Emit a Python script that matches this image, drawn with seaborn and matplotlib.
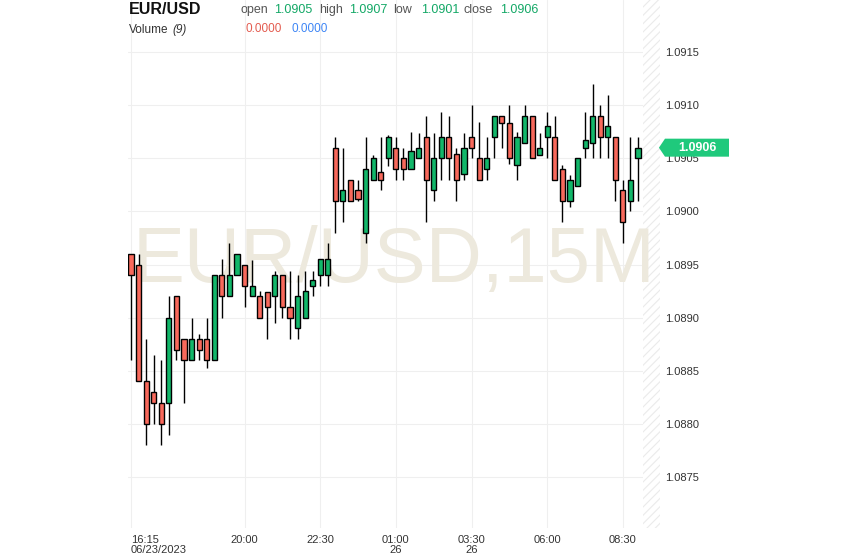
import matplotlib
matplotlib.use("Agg")
import matplotlib.pyplot as plt
import matplotlib.transforms as mtransforms
from matplotlib.patches import Polygon
import numpy as np
import pandas as pd
import seaborn as sns

# 15 minute candles, EUR/USD, 06/23/2023 16:15 -> 26 09:00
opens = [1.0896, 1.0895, 1.0884, 1.0883, 1.0882, 1.0882, 1.0892, 1.0888, 1.0886, 1.0888,
         1.0888, 1.0886, 1.0894, 1.0892, 1.0894, 1.0895, 1.0892, 1.0892, 1.08924, 1.0892,
         1.0894, 1.0891, 1.0889, 1.0890, 1.0893, 1.0894, 1.0894, 1.0906, 1.0901, 1.0903,
         1.0902, 1.0898, 1.0903, 1.09037, 1.0905, 1.0906, 1.0905, 1.0904, 1.0905, 1.0907,
         1.0902, 1.0905, 1.0907, 1.09054, 1.09035, 1.0907, 1.0905, 1.0904, 1.0907, 1.0909,
         1.09083, 1.09044, 1.09064, 1.0909, 1.09053, 1.0907, 1.0907, 1.0904, 1.0901, 1.09024,
         1.0906, 1.09064, 1.0909, 1.0907, 1.0907, 1.0902, 1.0901, 1.0905]
highs = [1.0896, 1.0896, 1.0888, 1.08865, 1.0886, 1.0892, 1.0892, 1.0888, 1.0890, 1.08885,
         1.0890, 1.0894, 1.08955, 1.0897, 1.0896, 1.0895, 1.08954, 1.08925, 1.08924, 1.08944,
         1.0894, 1.08944, 1.0894, 1.08944, 1.08944, 1.08955, 1.0897, 1.0907, 1.0906, 1.0903,
         1.0903, 1.0907, 1.09053, 1.0907, 1.09072, 1.0907, 1.0906, 1.09075, 1.09074, 1.0909,
         1.09074, 1.09094, 1.0909, 1.0906, 1.09074, 1.0910, 1.09084, 1.0907, 1.0909, 1.0909,
         1.0910, 1.09075, 1.0910, 1.0909, 1.09074, 1.09094, 1.0909, 1.09044, 1.09034, 1.0905,
         1.09094, 1.0912, 1.0910, 1.0911, 1.0907, 1.0903, 1.0907, 1.0907]
lows = [1.0886, 1.0884, 1.0878, 1.0880, 1.0878, 1.0879, 1.0886, 1.0882, 1.0886, 1.0886,
        1.08853, 1.0886, 1.0890, 1.0892, 1.0894, 1.0891, 1.0892, 1.0890, 1.0888, 1.08895,
        1.0890, 1.0888, 1.0888, 1.0890, 1.0892, 1.0893, 1.0893, 1.0898, 1.0899, 1.0901,
        1.0901, 1.0897, 1.0903, 1.0902, 1.09043, 1.0903, 1.0903, 1.0904, 1.0905, 1.0899,
        1.0901, 1.0903, 1.0903, 1.0901, 1.0903, 1.0905, 1.0903, 1.0903, 1.0905, 1.0906,
        1.09045, 1.0903, 1.09064, 1.0905, 1.09053, 1.0905, 1.0903, 1.0899, 1.09004, 1.09024,
        1.0905, 1.0905, 1.0905, 1.0905, 1.0901, 1.0897, 1.0900, 1.0901]
closes = [1.0894, 1.0884, 1.0880, 1.0882, 1.0880, 1.0890, 1.0887, 1.0886, 1.0888, 1.0887,
          1.0886, 1.0894, 1.0892, 1.0894, 1.0896, 1.0893, 1.0893, 1.0890, 1.0891, 1.0894,
          1.0891, 1.0890, 1.0892, 1.08925, 1.08935, 1.08955, 1.08955, 1.0901, 1.0902, 1.0901,
          1.09012, 1.0904, 1.0905, 1.0903, 1.0907, 1.0904, 1.0904, 1.09057, 1.0906, 1.0903,
          1.0905, 1.0907, 1.0905, 1.0903, 1.0906, 1.0906, 1.0903, 1.0905, 1.0909, 1.09083,
          1.0905, 1.0907, 1.0909, 1.0905, 1.0906, 1.0908, 1.0903, 1.0901, 1.0903, 1.0905,
          1.09067, 1.0909, 1.0907, 1.0908, 1.0903, 1.0899, 1.0903, 1.0906]

tick_pos = [0, 15, 25, 35, 45, 55, 65]
tick_labels = ["16:15\n06/23/2023", "20:00", "22:30", "01:00\n26", "03:30\n26", "06:00", "08:30"]
price_ticks = [1.0875, 1.0880, 1.0885, 1.0890, 1.0895, 1.0900, 1.0905, 1.0910, 1.0915]

UP = "#12b76a"
DOWN = "#f8695c"

df = pd.DataFrame({"open": opens, "high": highs, "low": lows, "close": closes})
df["idx"] = np.arange(len(df))
df["up"] = df["close"] >= df["open"]
df["bottom"] = df[["open", "close"]].min(axis=1)
df["height"] = (df["close"] - df["open"]).abs().clip(lower=0.000012)

sns.set_style("white")
plt.rcParams["font.family"] = ["Liberation Sans", "DejaVu Sans"]
plt.rcParams["hatch.linewidth"] = 0.8

W, H = 843, 558
fig = plt.figure(figsize=(W / 100, H / 100), dpi=100)
ax = fig.add_axes([128 / W, 30 / H, 532 / W, 528 / H])

ax.set_xlim(-0.4, 69.9)
ax.set_ylim(1.08702, 1.09199)

# hatched area right of last candle
ax.axvspan(67.6, 69.9, facecolor="white", edgecolor="#ebebeb", hatch="////",
           linewidth=0, zorder=0.3)

for x in tick_pos:
    ax.axvline(x, color="#efefef", lw=0.8, zorder=0.2)
for y in price_ticks:
    ax.axhline(y, color="#efefef", lw=0.8, zorder=0.2)

# watermark
ax.text(0.5, 0.505, "EUR/USD,15M", transform=ax.transAxes, ha="center", va="center",
        fontsize=56, color="#ede9dd", zorder=1)

ax.vlines(df["idx"], df["low"], df["high"], color="black", lw=1, zorder=2)
colors = np.where(df["up"], UP, DOWN)
ax.bar(df["idx"], df["height"], bottom=df["bottom"], width=0.68, color=colors,
       edgecolor="black", linewidth=1, zorder=3)

ax.set_xticks(tick_pos)
ax.set_xticklabels(tick_labels, fontsize=8, color="#333333", linespacing=0.95)
ax.get_xticklabels()[0].set_ha("left")
ax.yaxis.tick_right()
ax.set_yticks(price_ticks)
ax.set_yticklabels([f"{p:.4f}" for p in price_ticks], fontsize=8, color="#333333")
ax.tick_params(axis="both", length=0)
ax.tick_params(axis="x", pad=5)
ax.tick_params(axis="y", pad=3.5)
for s in ax.spines.values():
    s.set_visible(False)

# last price tag
last = closes[-1]
tr = mtransforms.blended_transform_factory(ax.transAxes, ax.transData)
dy = 9 / 106250
tag = Polygon([(0.998, last), (1.0094, last + dy), (1.1297, last + dy),
               (1.1297, last - dy), (1.0094, last - dy)], closed=True,
              transform=tr, facecolor="#1fc97c", edgecolor="none", clip_on=False, zorder=5)
ax.add_patch(tag)
ax.text(1.0695, last, f"{last:.4f}", transform=tr, ha="center", va="center",
        fontsize=9, fontweight="bold", color="white", clip_on=False, zorder=6)


def fx(px):
    return px / W


def fy(py):
    return 1 - py / H


# header
fig.text(fx(129), fy(14), "EUR/USD", fontsize=11.5, fontweight="bold", color="#111111")
fig.text(fx(240), fy(13), "open", fontsize=9, color="#555555")
fig.text(fx(274), fy(13), f"{opens[-1]:.4f}", fontsize=9, color="#13a866")
fig.text(fx(319), fy(13), "high", fontsize=9, color="#555555")
fig.text(fx(349), fy(13), f"{highs[-1]:.4f}", fontsize=9, color="#13a866")
fig.text(fx(393), fy(13), "low", fontsize=9, color="#555555")
fig.text(fx(421), fy(13), f"{lows[-1]:.4f}", fontsize=9, color="#13a866")
fig.text(fx(464), fy(13), "close", fontsize=9, color="#555555")
fig.text(fx(500), fy(13), f"{closes[-1]:.4f}", fontsize=9, color="#13a866")
fig.text(fx(129), fy(33), "Volume", fontsize=8.5, color="#333333")
fig.text(fx(172), fy(33), "(9)", fontsize=8.5, color="#333333", style="italic")
fig.text(fx(246), fy(32), "0.0000", fontsize=8.5, color="#e35b4f")
fig.text(fx(291), fy(32), "0.0000", fontsize=8.5, color="#3d85f5")

fig.savefig("out.png", dpi=100)
plt.close(fig)
